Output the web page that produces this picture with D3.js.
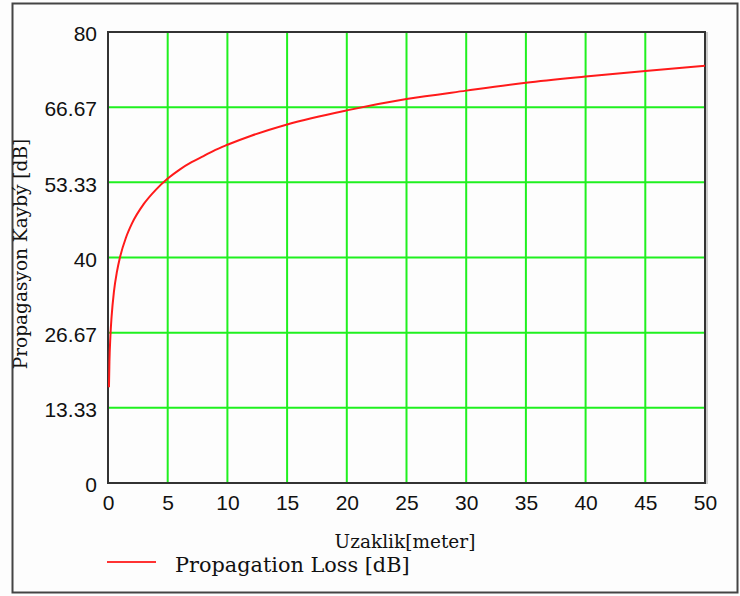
<!DOCTYPE html>
<html>
<head>
<meta charset="utf-8">
<script src="https://cdn.jsdelivr.net/npm/d3@7"></script>
<style>
  html, body { margin: 0; padding: 0; background: #fdfdfd; }
  svg { display: block; }
</style>
</head>
<body>
<svg id="chart" width="740" height="596"></svg>
<script>
// Propagation loss versus distance
const distance = [0.08, 0.12, 0.2, 0.3, 0.5, 0.75, 1, 1.5, 2, 3, 4, 5, 6, 7, 8, 9, 10, 12, 15, 20, 25, 30, 35, 40, 45, 50];
const lossDb   = [17, 21.5, 26, 29.5, 34, 37.5, 40, 43.5, 46, 49.5, 52, 54, 55.6, 56.9, 58, 59.1, 60, 61.6, 63.6, 66.1, 68.1, 69.6, 71, 72.1, 73.1, 74];
const xTicks = [0, 5, 10, 15, 20, 25, 30, 35, 40, 45, 50];
const yTicks = [0, 13.33, 26.67, 40, 53.33, 66.67, 80];
const yTickLabels = ["0", "13.33", "26.67", "40", "53.33", "66.67", "80"];

const svg = d3.select("#chart");
const plot = { left: 108, top: 32, right: 705, bottom: 483 };
const serif = "'DejaVu Serif', 'Liberation Serif', serif";

const x = d3.scaleLinear().domain([0, 50]).range([plot.left, plot.right]);
const y = d3.scaleLinear().domain([0, 80]).range([plot.bottom, plot.top]);

// outer frame
svg.append("rect")
  .attr("x", 12.5).attr("y", 3.5).attr("width", 725).attr("height", 589)
  .attr("fill", "#fdfdfd").attr("stroke", "#444").attr("stroke-width", 2);

// grid
const grid = svg.append("g").attr("stroke", "#1ff01f").attr("stroke-width", 2);
grid.selectAll("line.v").data(xTicks.slice(1, -1)).join("line")
  .attr("x1", d => x(d)).attr("x2", d => x(d))
  .attr("y1", plot.top).attr("y2", plot.bottom);
grid.selectAll("line.h").data(yTicks.slice(1, -1)).join("line")
  .attr("x1", plot.left).attr("x2", plot.right)
  .attr("y1", d => y(d)).attr("y2", d => y(d));

// plot border with its light edge on the right
svg.append("line")
  .attr("x1", plot.right + 2).attr("x2", plot.right + 2)
  .attr("y1", plot.top).attr("y2", plot.bottom + 1)
  .attr("stroke", "#bbb").attr("stroke-width", 1.5);
svg.append("rect")
  .attr("x", plot.left).attr("y", plot.top)
  .attr("width", plot.right - plot.left).attr("height", plot.bottom - plot.top)
  .attr("fill", "none").attr("stroke", "#333").attr("stroke-width", 2);

// axes (labels only; frame drawn above)
const xAxis = d3.axisBottom(x).tickValues(xTicks).tickSize(0).tickPadding(12).tickFormat(d3.format("d"));
const gx = svg.append("g").attr("transform", `translate(0,${plot.bottom})`).call(xAxis);
const yAxis = d3.axisLeft(y).tickValues(yTicks).tickSize(0).tickPadding(11)
  .tickFormat((d, i) => yTickLabels[i]);
const gy = svg.append("g").attr("transform", `translate(${plot.left},0)`).call(yAxis);
[gx, gy].forEach(g => {
  g.select(".domain").remove();
  g.selectAll("text")
    .attr("font-family", "'Liberation Sans', Arial, sans-serif")
    .attr("font-size", 21).attr("fill", "#111");
});
gy.selectAll("text").attr("dy", "0.42em");

// curve
svg.append("path")
  .datum(distance.map((d, i) => [d, lossDb[i]]))
  .attr("fill", "none").attr("stroke", "#ff1a1a").attr("stroke-width", 2)
  .attr("d", d3.line().x(d => x(d[0])).y(d => y(d[1])).curve(d3.curveMonotoneX));

// axis titles
svg.append("text")
  .attr("x", 405).attr("y", 548).attr("text-anchor", "middle")
  .attr("font-family", serif).attr("font-size", 18.5).attr("fill", "#111")
  .text("Uzaklik[meter]");
svg.append("text")
  .attr("transform", "translate(27,254) rotate(-90)").attr("text-anchor", "middle")
  .attr("font-family", serif).attr("font-size", 18.5).attr("fill", "#111")
  .text("Propagasyon Kaybý [dB]");

// legend
svg.append("line")
  .attr("x1", 107).attr("x2", 156).attr("y1", 562).attr("y2", 562)
  .attr("stroke", "#ff3333").attr("stroke-width", 2);
svg.append("text")
  .attr("x", 175).attr("y", 572)
  .attr("font-family", serif).attr("font-size", 20.8).attr("fill", "#111")
  .text("Propagation Loss [dB]");
</script>
</body>
</html>
